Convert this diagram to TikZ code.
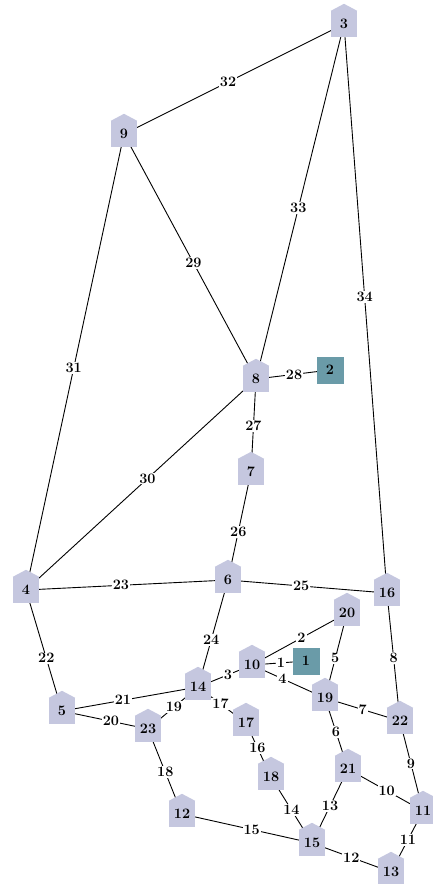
\documentclass[tikz,border=0pt]{standalone}
\usepackage{fontspec}
\usetikzlibrary{calc}
\pgfdeclarelayer{background}
\pgfsetlayers{background,main}
\definecolor{housefill}{HTML}{C5C7DF}
\definecolor{sqfill}{HTML}{6A9BA8}
\begin{document}
\begin{tikzpicture}[x=1pt,y=-1pt,
  every node/.style={font=\fontsize{14.4}{16}\selectfont\bfseries},
  housenode/.style={rectangle,fill=housefill,minimum width=26pt,minimum height=26pt,inner sep=0pt},
  sqnode/.style={rectangle,fill=sqfill,minimum width=27pt,minimum height=27pt,inner sep=0pt},
  edgelabel/.style={fill=white,inner sep=1pt},
  link/.style={draw=black,line width=0.9pt}]
\useasboundingbox (0,0) rectangle (433,884);
% nodes
\node[sqnode] (n1) at (306,661) {1};
\node[sqnode] (n2) at (330,370) {2};
\node[housenode] (n3) at (344,24) {3};
\node[housenode] (n4) at (26,590) {4};
\node[housenode] (n5) at (62,711) {5};
\node[housenode] (n6) at (228,580) {6};
\node[housenode] (n7) at (251,472) {7};
\node[housenode] (n8) at (256,379) {8};
\node[housenode] (n9) at (124,134) {9};
\node[housenode] (n10) at (252,665) {10};
\node[housenode] (n11) at (423,811) {11};
\node[housenode] (n12) at (182,814) {12};
\node[housenode] (n13) at (391,872) {13};
\node[housenode] (n14) at (198,687) {14};
\node[housenode] (n15) at (312,843) {15};
\node[housenode] (n16) at (387,593) {16};
\node[housenode] (n17) at (246,723) {17};
\node[housenode] (n18) at (271,777) {18};
\node[housenode] (n19) at (325,698) {19};
\node[housenode] (n20) at (347,613) {20};
\node[housenode] (n21) at (348,769) {21};
\node[housenode] (n22) at (400,721) {22};
\node[housenode] (n23) at (148,729) {23};
% roofs
\foreach \n in {3,...,23}
  \fill[housefill] (n\n.north west) -- ($(n\n.north)+(0,-7)$) -- (n\n.north east) -- cycle;
% edges
\begin{pgfonlayer}{background}
\draw[link] (n10.center) -- node[edgelabel,pos=0.537] {1} (n1.center);
\draw[link] (n10.center) -- node[edgelabel,pos=0.521] {2} (n20.center);
\draw[link] (n14.center) -- node[edgelabel,pos=0.554] {3} (n10.center);
\draw[link] (n10.center) -- node[edgelabel,pos=0.418] {4} (n19.center);
\draw[link] (n20.center) -- node[edgelabel,pos=0.533] {5} (n19.center);
\draw[link] (n19.center) -- node[edgelabel,pos=0.475] {6} (n21.center);
\draw[link] (n19.center) -- node[edgelabel,pos=0.503] {7} (n22.center);
\draw[link] (n16.center) -- node[edgelabel,pos=0.508] {8} (n22.center);
\draw[link] (n22.center) -- node[edgelabel,pos=0.473] {9} (n11.center);
\draw[link] (n21.center) -- node[edgelabel,pos=0.516] {10} (n11.center);
\draw[link] (n11.center) -- node[edgelabel,pos=0.473] {11} (n13.center);
\draw[link] (n15.center) -- node[edgelabel,pos=0.497] {12} (n13.center);
\draw[link] (n21.center) -- node[edgelabel,pos=0.5] {13} (n15.center);
\draw[link] (n18.center) -- node[edgelabel,pos=0.497] {14} (n15.center);
\draw[link] (n12.center) -- node[edgelabel,pos=0.536] {15} (n15.center);
\draw[link] (n17.center) -- node[edgelabel,pos=0.458] {16} (n18.center);
\draw[link] (n14.center) -- node[edgelabel,pos=0.47] {17} (n17.center);
\draw[link] (n23.center) -- node[edgelabel,pos=0.509] {18} (n12.center);
\draw[link] (n14.center) -- node[edgelabel,pos=0.482] {19} (n23.center);
\draw[link] (n5.center) -- node[edgelabel,pos=0.569] {20} (n23.center);
\draw[link] (n5.center) -- node[edgelabel,pos=0.448] {21} (n14.center);
\draw[link] (n4.center) -- node[edgelabel,pos=0.564] {22} (n5.center);
\draw[link] (n4.center) -- node[edgelabel,pos=0.47] {23} (n6.center);
\draw[link] (n6.center) -- node[edgelabel,pos=0.561] {24} (n14.center);
\draw[link] (n6.center) -- node[edgelabel,pos=0.46] {25} (n16.center);
\draw[link] (n7.center) -- node[edgelabel,pos=0.554] {26} (n6.center);
\draw[link] (n8.center) -- node[edgelabel,pos=0.505] {27} (n7.center);
\draw[link] (n8.center) -- node[edgelabel,pos=0.514] {28} (n2.center);
\draw[link] (n9.center) -- node[edgelabel,pos=0.526] {29} (n8.center);
\draw[link] (n8.center) -- node[edgelabel,pos=0.472] {30} (n4.center);
\draw[link] (n9.center) -- node[edgelabel,pos=0.513] {31} (n4.center);
\draw[link] (n9.center) -- node[edgelabel,pos=0.473] {32} (n3.center);
\draw[link] (n3.center) -- node[edgelabel,pos=0.519] {33} (n8.center);
\draw[link] (n3.center) -- node[edgelabel,pos=0.48] {34} (n16.center);
\end{pgfonlayer}
\end{tikzpicture}
\end{document}
